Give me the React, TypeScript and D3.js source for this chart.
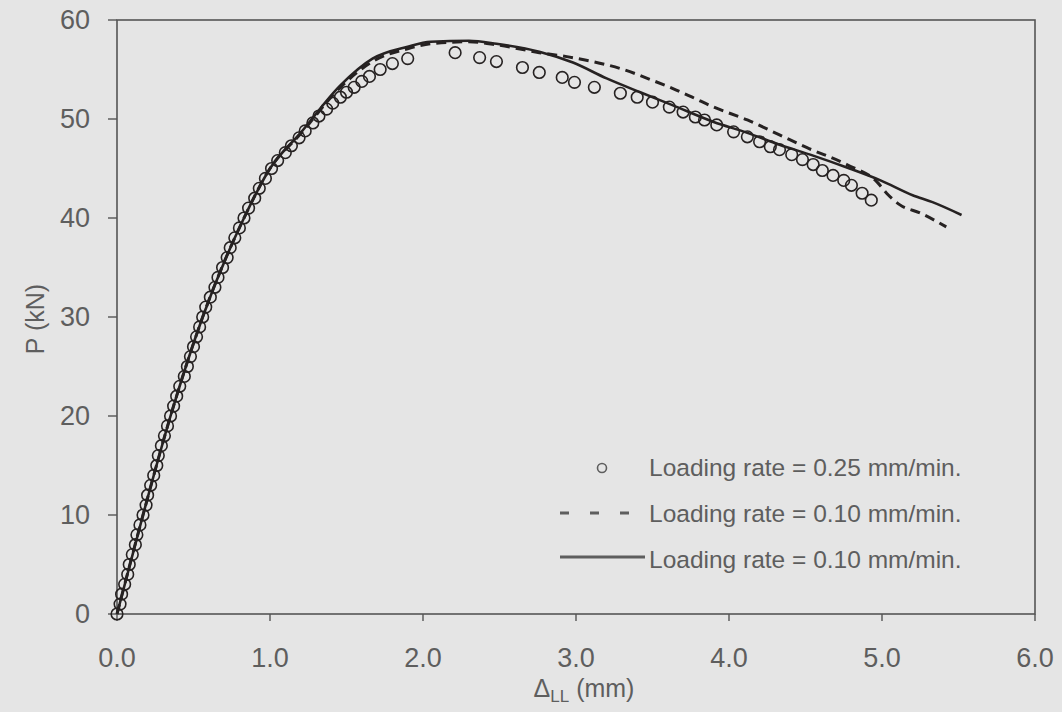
import React from "react";
import * as d3 from "d3";

const W = 1062;
const H = 712;

const xTicks = [0, 1, 2, 3, 4, 5, 6];
const yTicks = [0, 10, 20, 30, 40, 50, 60];

// Loading rate = 0.25 mm/min (circles): [delta (mm), P (kN)]
const circleData: [number, number][] = [
  [0.0, 0.0], [0.02, 1.0], [0.03, 2.0], [0.05, 3.0], [0.07, 4.0], [0.08, 5.0],
  [0.1, 6.0], [0.12, 7.0], [0.13, 8.0], [0.15, 9.0], [0.17, 10.0], [0.19, 11.0],
  [0.2, 12.0], [0.22, 13.0], [0.24, 14.0], [0.26, 15.0], [0.27, 16.0], [0.29, 17.0],
  [0.31, 18.0], [0.33, 19.0], [0.35, 20.0], [0.37, 21.0], [0.39, 22.0], [0.41, 23.0],
  [0.44, 24.0], [0.46, 25.0], [0.48, 26.0], [0.5, 27.0], [0.52, 28.0], [0.54, 29.0],
  [0.56, 30.0], [0.58, 31.0], [0.61, 32.0], [0.64, 33.0], [0.66, 34.0], [0.69, 35.0],
  [0.72, 36.0], [0.74, 37.0], [0.77, 38.0], [0.8, 39.0], [0.83, 40.0], [0.86, 41.0],
  [0.9, 42.0], [0.93, 43.0], [0.97, 44.0], [1.01, 45.0], [1.05, 45.8], [1.1, 46.6],
  [1.14, 47.3], [1.19, 48.1], [1.23, 48.8], [1.28, 49.6], [1.32, 50.3], [1.37, 51.0],
  [1.41, 51.6], [1.46, 52.2], [1.5, 52.7], [1.55, 53.2], [1.6, 53.8], [1.65, 54.3],
  [1.72, 55.0], [1.8, 55.6], [1.9, 56.1], [2.21, 56.7], [2.37, 56.2], [2.48, 55.8],
  [2.65, 55.2], [2.76, 54.7], [2.91, 54.2], [2.99, 53.7], [3.12, 53.2], [3.29, 52.6],
  [3.4, 52.2], [3.5, 51.7], [3.61, 51.2], [3.7, 50.7], [3.78, 50.2], [3.84, 49.9],
  [3.92, 49.4], [4.03, 48.7], [4.12, 48.2], [4.2, 47.7], [4.27, 47.2], [4.33, 46.9],
  [4.41, 46.4], [4.48, 45.9], [4.55, 45.4], [4.61, 44.8], [4.68, 44.3], [4.75, 43.8],
  [4.8, 43.3], [4.87, 42.5], [4.93, 41.8],
];

// Loading rate = 0.10 mm/min (dashed)
const dashedData: [number, number][] = [
  [0.0, 0.0], [0.17, 10.0], [0.35, 20.0], [0.56, 30.0], [0.83, 40.0], [1.0, 45.0],
  [1.2, 48.5], [1.46, 53.2], [1.67, 55.8], [1.9, 57.1], [2.05, 57.6], [2.3, 57.8],
  [2.48, 57.5], [2.76, 56.7], [2.94, 56.3], [3.11, 55.8], [3.31, 55.0], [3.5, 53.9],
  [3.63, 53.1], [3.76, 52.2], [3.9, 51.2], [4.12, 49.9], [4.33, 48.4], [4.51, 47.1],
  [4.77, 45.4], [4.97, 43.6], [5.03, 42.5], [5.12, 41.3], [5.25, 40.5], [5.42, 39.1],
];

// Loading rate = 0.10 mm/min (solid)
const solidData: [number, number][] = [
  [0.0, 0.0], [0.17, 10.0], [0.35, 20.0], [0.56, 30.0], [0.83, 40.0], [1.0, 45.0],
  [1.2, 48.6], [1.46, 53.4], [1.67, 56.1], [1.9, 57.3], [2.05, 57.8], [2.3, 57.9],
  [2.48, 57.6], [2.76, 56.8], [2.98, 55.7], [3.2, 54.1], [3.42, 52.7], [3.63, 51.4],
  [3.9, 49.7], [4.12, 48.6], [4.33, 47.4], [4.55, 46.3], [4.77, 45.1], [4.99, 43.8],
  [5.2, 42.3], [5.33, 41.6], [5.52, 40.3],
];

const legendLabels = [
  "Loading rate = 0.25 mm/min.",
  "Loading rate = 0.10 mm/min.",
  "Loading rate = 0.10 mm/min.",
];

const FONT = "'Liberation Sans', Arial, sans-serif";
const TEXT = "#5e5e5e";
const AXIS = "#555555";
const INK = "#262222";

export default function App() {
  const x = d3.scaleLinear().domain([0, 6]).range([117, 1035]);
  const y = d3.scaleLinear().domain([0, 60]).range([614, 20]);
  const line = d3
    .line<[number, number]>()
    .x((d) => x(d[0]))
    .y((d) => y(d[1]))
    .curve(d3.curveMonotoneX);

  const [x0, x1] = x.range();
  const [y0, y1] = y.range();

  return (
    <svg
      width={W}
      height={H}
      style={{ position: "absolute", left: 0, top: 0 }}
      fontFamily={FONT}
    >
      <rect x={0} y={0} width={W} height={H} fill="#e5e5e5" />
      {/* frame */}
      <rect
        x={x0}
        y={y1}
        width={x1 - x0}
        height={y0 - y1}
        fill="none"
        stroke={AXIS}
        strokeWidth={1.6}
      />
      {/* y ticks */}
      {yTicks.map((t) => (
        <g key={"y" + t}>
          <line x1={x0 - 9} x2={x0} y1={y(t)} y2={y(t)} stroke={AXIS} strokeWidth={1.4} />
          <text
            x={90}
            y={y(t)}
            textAnchor="end"
            dominantBaseline="central"
            fontSize={27}
            fill={TEXT}
          >
            {t}
          </text>
        </g>
      ))}
      {/* x ticks */}
      {xTicks.map((t) => (
        <g key={"x" + t}>
          <line x1={x(t)} x2={x(t)} y1={y0} y2={y0 + 7} stroke={AXIS} strokeWidth={1.4} />
          <text x={x(t)} y={667} textAnchor="middle" fontSize={27} fill={TEXT}>
            {t.toFixed(1)}
          </text>
        </g>
      ))}
      {/* axis titles */}
      <text
        transform={`translate(44,${(y0 + y1) / 2 + 2}) rotate(-90)`}
        textAnchor="middle"
        fontSize={25}
        fill={TEXT}
      >
        P (kN)
      </text>
      <text x={584} y={697} textAnchor="middle" fontSize={25} fill={TEXT}>
        Δ
        <tspan fontSize={17} dy={5}>LL</tspan>
        <tspan dy={-5}> (mm)</tspan>
      </text>

      {/* series */}
      <path d={line(dashedData) || ""} fill="none" stroke={INK} strokeWidth={3} strokeDasharray="10,6" />
      <path d={line(solidData) || ""} fill="none" stroke={INK} strokeWidth={2.6} />
      {circleData.map((d, i) => (
        <circle
          key={"c" + i}
          cx={x(d[0])}
          cy={y(d[1])}
          r={5.8}
          fill="none"
          stroke={INK}
          strokeWidth={1.6}
        />
      ))}

      {/* legend */}
      <circle cx={602} cy={468} r={4.5} fill="none" stroke={TEXT} strokeWidth={1.6} />
      <text x={649} y={476} fontSize={24.5} fill={TEXT}>{legendLabels[0]}</text>
      <line x1={560} x2={640} y1={513} y2={513} stroke={TEXT} strokeWidth={3} strokeDasharray="9,21" />
      <text x={649} y={522} fontSize={24.5} fill={TEXT}>{legendLabels[1]}</text>
      <line x1={560} x2={645} y1={557} y2={557} stroke={TEXT} strokeWidth={3} />
      <text x={649} y={568} fontSize={24.5} fill={TEXT}>{legendLabels[2]}</text>
    </svg>
  );
}
